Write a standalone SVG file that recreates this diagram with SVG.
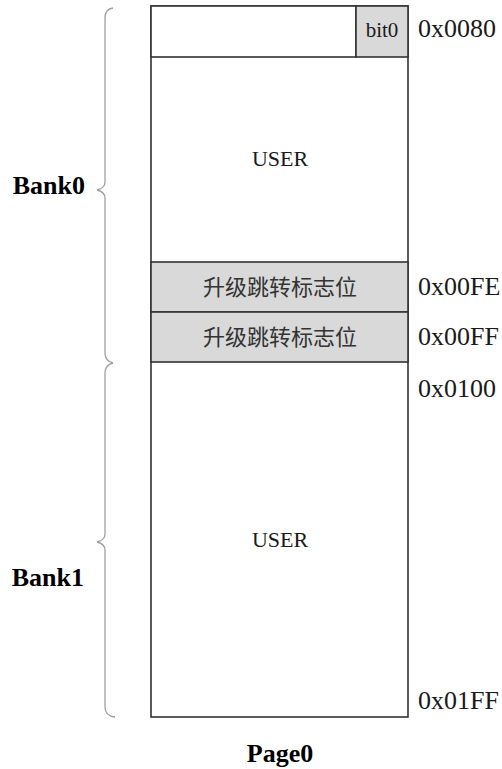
<svg xmlns="http://www.w3.org/2000/svg" width="502" height="769" viewBox="0 0 502 769">
<style>
.box{fill:#fff;stroke:#333;stroke-width:1.6}
.grey{fill:#d9d9d9;stroke:#333;stroke-width:1.6}
.brace{fill:none;stroke:#a0a0a0;stroke-width:1.3}
.serif{font-family:"Liberation Serif","Times New Roman",serif;fill:#1a1a1a}
.addr{font-size:26px}
.bold{font-weight:bold;font-size:26px;fill:#000}
.cjk{font-family:"Noto Sans CJK SC",sans-serif;font-size:22px;fill:#333}
</style>
<rect width="502" height="769" fill="#fff"/>
<g id="page0">
  <rect class="box" x="151" y="6" width="257" height="711"/>
</g>
<g id="row-0080">
  <rect class="box" x="151" y="6" width="205" height="51"/>
  <rect class="grey" x="356" y="6" width="52" height="51"/>
  <text class="serif" x="382" y="37" font-size="21" text-anchor="middle">bit0</text>
</g>
<g id="user0">
  <text class="serif" x="280" y="166" font-size="22" text-anchor="middle">USER</text>
</g>
<g id="flag-fe">
  <rect class="grey" x="151" y="262" width="257" height="50"/>
  <text class="cjk" x="280" y="295" text-anchor="middle">升级跳转标志位</text>
</g>
<g id="flag-ff">
  <rect class="grey" x="151" y="312" width="257" height="50"/>
  <text class="cjk" x="280" y="345" text-anchor="middle">升级跳转标志位</text>
</g>
<g id="user1">
  <text class="serif" x="280" y="547" font-size="22" text-anchor="middle">USER</text>
</g>
<g id="addresses">
  <text class="serif addr" x="418" y="37">0x0080</text>
  <text class="serif addr" x="418" y="295">0x00FE</text>
  <text class="serif addr" x="418" y="345">0x00FF</text>
  <text class="serif addr" x="418" y="397">0x0100</text>
  <text class="serif addr" x="418" y="709">0x01FF</text>
</g>
<g id="bank0">
  <path class="brace" d="M113,8 Q105,9 105,18 L105,182 Q105,188 97,190 Q105,192 105,198 L105,353 Q105,361 113,363"/>
  <text class="serif bold" x="85" y="194" text-anchor="end">Bank0</text>
</g>
<g id="bank1">
  <path class="brace" d="M113,363 Q105,365 105,373 L105,534 Q105,540 97,542 Q105,544 105,550 L105,707 Q105,716 115,717"/>
  <text class="serif bold" x="84" y="586" text-anchor="end">Bank1</text>
</g>
<g id="label">
  <text class="serif bold" x="280" y="762" text-anchor="middle">Page0</text>
</g>
<g id="connectors"></g>
</svg>
